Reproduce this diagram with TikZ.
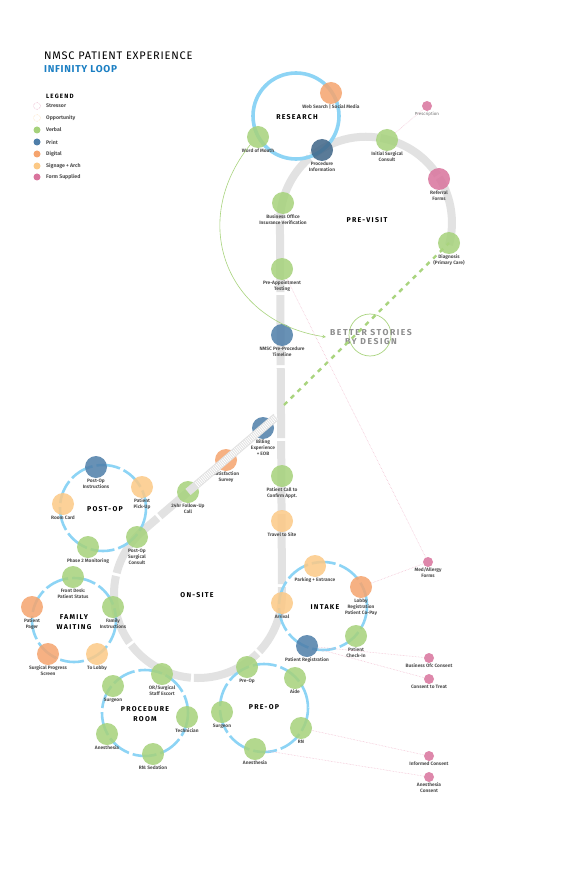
\documentclass[tikz,border=0pt]{standalone}
\usepackage{fontspec}
\setmainfont{Fira Sans}
\setsansfont{Fira Sans}
\newfontfamily\hdfont[LetterSpace=18]{Fira Sans}
\newfontfamily\ttlfont[LetterSpace=7]{Fira Sans}
\usetikzlibrary{positioning}
\definecolor{verbal}{HTML}{A6D27B}
\definecolor{print}{HTML}{4E7EA9}
\definecolor{digital}{HTML}{F5A46E}
\definecolor{signage}{HTML}{FCC986}
\definecolor{form}{HTML}{D9749D}
\definecolor{loopblue}{HTML}{8DD4F5}
\definecolor{band}{HTML}{E2E2E2}
\definecolor{txt}{HTML}{505050}
\definecolor{titleblue}{HTML}{1B7FC3}
\definecolor{story}{HTML}{8E8E8E}
\definecolor{storygreen}{HTML}{A9D47E}
\definecolor{formline}{HTML}{F0B3C8}

\begin{document}
\begin{tikzpicture}[>=stealth,x=1pt,y=-1pt,font=\sffamily,
  tp/.style={circle,minimum size=22pt,inner sep=0pt,fill opacity=0.85,label distance=-1.2pt},
  verbal/.style={tp,fill=verbal},
  print/.style={tp,fill=print},
  digital/.style={tp,fill=digital},
  signage/.style={tp,fill=signage},
  form/.style={tp,fill=form,minimum size=10pt,label distance=0.8pt},
  lbl/.style={font=\fontsize{4.8}{6}\selectfont\bfseries,text=txt,align=center,inner sep=0.5pt},
  hd/.style={font=\hdfont\fontsize{7}{10}\selectfont\bfseries,align=center,inner sep=0pt},
  ring/.style={loopblue,line width=2.6pt,dash pattern=on 24pt off 4pt},
  loopband/.style={band,line width=8pt,dash pattern=on 70pt off 3pt},
  formlink/.style={formline,line width=0.5pt,densely dotted},
  legdot/.style={circle,minimum size=7pt,inner sep=0pt},
  legtxt/.style={anchor=west,font=\fontsize{5.2}{6}\selectfont\bfseries,text=txt,inner sep=0pt}]
\useasboundingbox[fill=white] (0,0) rectangle (566,877);

% title and legend
\node[anchor=west,inner sep=0pt,font=\ttlfont\fontsize{11}{12}\selectfont] (title) at (44,56) {NMSC PATIENT EXPERIENCE};
\node[anchor=west,inner sep=0pt,font=\ttlfont\fontsize{10}{12}\selectfont\bfseries,text=titleblue] (subtitle) at (44,69) {INFINITY LOOP};
\node[anchor=west,inner sep=0pt,font=\hdfont\fontsize{6.2}{8}\selectfont\bfseries] (legend) at (46,96) {LEGEND};
\foreach \y/\c/\t [count=\i] in {106/form/Stressor,118/signage/Opportunity,130/verbal/Verbal,142/print/Print,154/digital/Digital,166/signage/Signage + Arch,177/form/Form Supplied}{
  \ifnum\i<3
    \node[legdot,draw=\c!70,line width=0.5pt,densely dotted] (leg\i) at (37,\y) {};
  \else
    \node[legdot,fill=\c] (leg\i) at (37,\y) {};
  \fi
  \node[legtxt] (legt\i) at (46,\y) {\t};
}

% the infinity loop band
\coordinate (arctop) at (368,222);
\coordinate (onsite) at (198,594);
\draw[loopband] (449,245) arc[start angle=15,end angle=-180,radius=86] -- (282,594)
  arc[start angle=0,end angle=229,radius=84] -- (188,492);

% research and loop rings
\draw[loopblue,line width=3.6pt] (296,116) circle[radius=43];
\draw[ring] (103,508) circle[radius=43];
\draw[ring] (74,620) circle[radius=42];
\draw[ring] (323,606) circle[radius=44];
\draw[ring] (145,713) circle[radius=43];
\draw[ring] (264,708) circle[radius=44];

% research
\node[verbal,label={[lbl]below:Word of Mouth}] (wom) at (258,137) {};
\node[digital,label={[lbl]below:Web Search | Social Media}] (web) at (331,93) {};
\node[print,fill=print!80!black,label={[lbl]below:Procedure\\Information}] (procinfo) at (322,150) {};
\node[hd] (research) at (297,117) {RESEARCH};

% pre-visit
\node[verbal,label={[lbl]below:Initial Surgical\\Consult}] (initial) at (387,140) {};
\node[form,label={[lbl,font=\fontsize{4.4}{6}\selectfont,text=txt!80]below:Prescription}] (rx) at (427,106) {};
\node[form,minimum size=22pt,label distance=-1.2pt,label={[lbl]below:Referral\\Forms}] (referral) at (439,179) {};
\node[verbal,label={[lbl]below:Diagnosis\\(Primary Care)}] (diag) at (449,243) {};
\node[verbal,label={[lbl]below:Business Office\\Insurance Verification}] (bizoffice) at (283,203) {};
\node[verbal,label={[lbl]below:Pre-Appointment\\Testing}] (preappt) at (282,269) {};
\node[print,label={[lbl]below:NMSC Pre-Procedure\\Timeline}] (timeline) at (282,335) {};
\node[hd] (previsit) at (367,220) {PRE-VISIT};

% way back
\node[print,label={[lbl]below:Billing\\Experience\\+ EOB}] (billing) at (263,428) {};
\node[digital,label={[lbl]below:Satisfaction\\Survey}] (survey) at (226,460) {};
\node[verbal,label={[lbl]below:24hr Follow-Up\\Call}] (followup) at (188,492) {};
\node[verbal,label={[lbl]below:Patient Call to\\Confirm Appt.}] (confirm) at (282,476) {};
\node[signage,label={[lbl]below:Travel to Site}] (travel) at (282,521) {};
\coordinate (hatchend) at (276,417);
\coordinate (dashstart) at (284,405);

% better stories
\node[circle,draw=storygreen,line width=0.7pt,minimum size=42pt] (ring) at (370,335) {};
\node[align=center,inner sep=0pt,text=story,font=\hdfont\fontsize{8.6}{9.6}\selectfont\bfseries] (better) at (371,337) {BETTER STORIES\\BY DESIGN};
\draw[storygreen,line width=2.4pt,dash pattern=on 4.5pt off 5pt] (dashstart) -- (diag.center);
\draw[storygreen,line width=0.6pt,->] (wom.south west) .. controls (188,222) and (226,322) .. ([xshift=-4pt]better.west);

% post-op
\node[print,label={[lbl]below:Post-Op\\Instructions}] (poinstr) at (96,467) {};
\node[signage,label={[lbl]below:Patient\\Pick-Up}] (pickup) at (142,487) {};
\node[signage,label={[lbl]below:Room Card}] (roomcard) at (63,504) {};
\node[verbal,label={[lbl]below:Post-Op\\Surgical\\Consult}] (poconsult) at (137,537) {};
\node[verbal,label={[lbl]below:Phase 2 Monitoring}] (phase2) at (88,547) {};
\node[hd] (postop) at (105,509) {POST-OP};

% family waiting
\node[verbal,label={[lbl]below:Front Desk:\\Patient Status}] (frontdesk) at (73,577) {};
\node[verbal,label={[lbl]below:Family\\Instructions}] (faminstr) at (113,607) {};
\node[digital,label={[lbl]below:Patient\\Pager}] (pager) at (32,607) {};
\node[digital,label={[lbl]below:Surgical Progress\\Screen}] (progress) at (48,654) {};
\node[signage,label={[lbl]below:To Lobby}] (tolobby) at (97,654) {};
\node[hd,font=\hdfont\fontsize{7}{10.5}\selectfont\bfseries] (family) at (74,622) {FAMILY\\WAITING};
\node[hd] (onsitelbl) at (197,595) {ON-SITE};

% intake
\node[signage,label={[lbl]below:Parking + Entrance}] (parking) at (315,566) {};
\node[digital,label={[lbl]below:Lobby\\Registration\\Patient Co-Pay}] (lobby) at (361,587) {};
\node[signage,label={[lbl]below:Arrival}] (arrival) at (282,603) {};
\node[verbal,label={[lbl]below:Patient\\Check-In}] (checkin) at (356,636) {};
\node[print,label={[lbl]below:Patient Registration}] (patreg) at (307,646) {};
\node[form,label={[lbl]below:Med/Allergy\\Forms}] (medforms) at (428,562) {};
\node[form,label={[lbl]below:Business Ofc Consent}] (bizconsent) at (429,658) {};
\node[form,label={[lbl]below:Consent to Treat}] (treat) at (429,679) {};
\node[hd] (intake) at (325,607) {INTAKE};

% procedure room
\node[verbal,label={[lbl]below:OR/Surgical\\Staff Escort}] (escort) at (162,674) {};
\node[verbal,label={[lbl]below:Surgeon}] (prsurgeon) at (113,686) {};
\node[verbal,label={[lbl]below:Technician}] (tech) at (187,717) {};
\node[verbal,label={[lbl]below:Anesthesia}] (pranes) at (107,734) {};
\node[verbal,label={[lbl]below:RN: Sedation}] (sedation) at (153,754) {};
\node[hd,font=\hdfont\fontsize{7}{10.5}\selectfont\bfseries] (procroom) at (145,714) {PROCEDURE\\ROOM};

% pre-op
\node[verbal,label={[lbl]below:Pre-Op}] (preop) at (247,667) {};
\node[verbal,label={[lbl]below:Aide}] (aide) at (295,678) {};
\node[verbal,label={[lbl]below:Surgeon}] (posurgeon) at (222,712) {};
\node[verbal,label={[lbl]below:RN}] (rn) at (301,728) {};
\node[verbal,label={[lbl]below:Anesthesia}] (poanes) at (255,749) {};
\node[form,label={[lbl]below:Informed Consent}] (informed) at (429,756) {};
\node[form,label={[lbl]below:Anesthesia\\Consent}] (anesconsent) at (429,777) {};
\node[hd] (preoplbl) at (264,707) {PRE-OP};

% hatched stretch back to the start
\draw[band,line width=8pt] (followup.center) -- (hatchend);
\draw[white,line width=6pt,dash pattern=on 0.8pt off 1.2pt] (followup) -- (hatchend);

% forms that go with the touchpoints
\draw[formlink] (initial) -- (rx);
\draw[formlink] (preappt) -- (medforms);
\draw[formlink] (lobby) -- (medforms);
\draw[formlink] (patreg) -- (bizconsent);
\draw[formlink] (patreg) -- (treat);
\draw[formlink] (rn) -- (informed);
\draw[formlink] (poanes) -- (anesconsent);
\end{tikzpicture}
\end{document}
